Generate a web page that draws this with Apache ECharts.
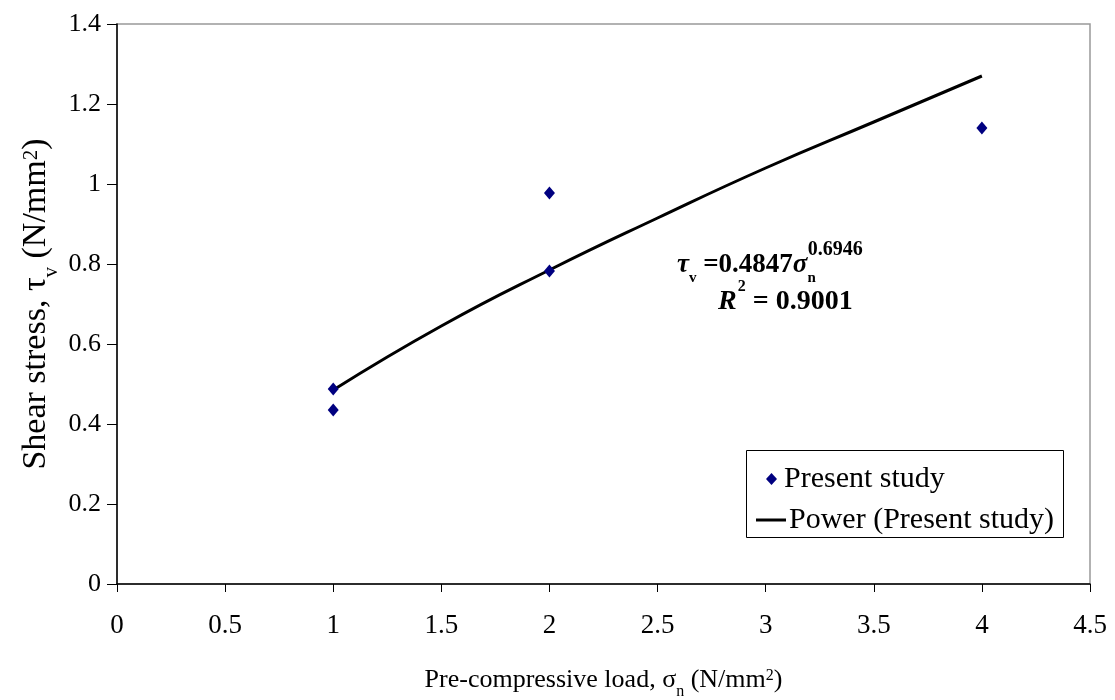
<!DOCTYPE html>
<html>
<head>
<meta charset="utf-8">
<script src="https://cdn.jsdelivr.net/npm/echarts@6/dist/echarts.min.js"></script>
<style>
  html, body { margin: 0; padding: 0; background: #fff; }
  #chart { width: 1115px; height: 700px; }
</style>
</head>
<body>
<div id="chart"></div>
<script>
  // measured points
  var loadX = [1, 1, 2, 2, 4];
  var shearY = [0.4875, 0.435, 0.9775, 0.7825, 1.14];

  // power trend line
  var trendX = [1, 1.5, 2, 2.5, 3, 3.5, 4];
  var trendY = [0.485, 0.645, 0.785, 0.915, 1.04, 1.155, 1.27];

  var xTicks = [0, 0.5, 1, 1.5, 2, 2.5, 3, 3.5, 4, 4.5];
  var yTicks = [0, 0.2, 0.4, 0.6, 0.8, 1, 1.2, 1.4];

  var FONT = '"Liberation Serif", "Times New Roman", serif';

  function pairs(xs, ys) {
    return xs.map(function (x, i) { return [x, ys[i]]; });
  }

  function titleRich(size) {
    var small = Math.round(size * 0.62);
    return {
      t: { fontFamily: FONT, fontSize: size, color: '#000' },
      s: { fontFamily: FONT, fontSize: small, color: '#000', verticalAlign: 'bottom', padding: [0, 0, -Math.round(size * 0.25), 0] },
      p: { fontFamily: FONT, fontSize: small, color: '#000', verticalAlign: 'top', padding: [Math.round(size * 0.05), 0, 0, 0] }
    };
  }

  var chart = echarts.init(document.getElementById('chart'), null, { renderer: 'canvas' });

  chart.setOption({
    backgroundColor: '#fff',
    animation: false,
    grid: {
      left: 117, right: 25, top: 24, bottom: 116,
      outerBoundsMode: 'none',
      containLabel: false,
      show: true, borderColor: '#999', borderWidth: 1.5, backgroundColor: 'transparent'
    },
    xAxis: {
      type: 'value',
      min: xTicks[0],
      max: xTicks[xTicks.length - 1],
      interval: 0.5,
      axisLine: { onZero: false, lineStyle: { color: '#000', width: 1.5 } },
      axisTick: { length: 8, lineStyle: { color: '#000' } },
      splitLine: { show: false },
      axisLabel: { fontFamily: FONT, fontSize: 27, color: '#000', margin: 28 },
      name: '{t|Pre-compressive load, σ}{s|n}{t| (N/mm}{p|2}{t|)}',
      nameLocation: 'middle',
      nameMoveOverlap: false,
      nameGap: 83,
      nameTextStyle: { rich: titleRich(26) }
    },
    yAxis: {
      type: 'value',
      min: yTicks[0],
      max: yTicks[yTicks.length - 1],
      interval: 0.2,
      axisLine: { onZero: false, lineStyle: { color: '#000', width: 1.5 } },
      axisTick: { length: 10, lineStyle: { color: '#000' } },
      splitLine: { show: false },
      axisLabel: { fontFamily: FONT, fontSize: 26, color: '#000', margin: 16 },
      name: '{t|Shear stress, τ}{s|v}{t| (N/mm}{p|2}{t|)}',
      nameLocation: 'middle',
      nameRotate: 90,
      nameMoveOverlap: false,
      nameGap: 64,
      nameTextStyle: { rich: titleRich(34) }
    },
    legend: [
      {
        data: ['Present study'],
        left: 761, top: 459,
        icon: 'diamond',
        itemWidth: 11, itemHeight: 12, itemGap: 0,
        textStyle: { fontFamily: FONT, fontSize: 30, color: '#000', padding: [0, 0, 0, 2] }
      },
      {
        data: ['Power (Present study)'],
        left: 751, top: 500,
        icon: 'rect',
        itemWidth: 30, itemHeight: 3,
        textStyle: { fontFamily: FONT, fontSize: 30, color: '#000', padding: [0, 0, 0, -2] }
      }
    ],
    graphic: [
      {
        type: 'rect',
        left: 746, top: 450, z: 1,
        shape: { width: 317, height: 87 },
        style: { fill: '#fff', stroke: '#000', lineWidth: 1 }
      },
      {
        type: 'text',
        left: 677, top: 240,
        style: {
          text: '{i|τ}{s|v}{n| =0.4847}{i|σ}{s|n}{p|0.6946}',
          rich: {
            i: { fontFamily: FONT, fontSize: 27, fontWeight: 'bold', fontStyle: 'italic', fill: '#000' },
            n: { fontFamily: FONT, fontSize: 27, fontWeight: 'bold', fill: '#000' },
            s: { fontFamily: FONT, fontSize: 15, fontWeight: 'bold', fill: '#000', verticalAlign: 'bottom', padding: [0, 0, -7, 0] },
            p: { fontFamily: FONT, fontSize: 20, fontWeight: 'bold', fill: '#000', verticalAlign: 'top', padding: [-12, 0, 0, -8] }
          }
        }
      },
      {
        type: 'text',
        left: 718, top: 279,
        style: {
          text: '{i|R}{p|2}{n| = 0.9001}',
          rich: {
            i: { fontFamily: FONT, fontSize: 28, fontWeight: 'bold', fontStyle: 'italic', fill: '#000' },
            n: { fontFamily: FONT, fontSize: 28, fontWeight: 'bold', fill: '#000' },
            p: { fontFamily: FONT, fontSize: 16, fontWeight: 'bold', fill: '#000', verticalAlign: 'top', padding: [-9, 0, 0, 1] }
          }
        }
      }
    ],
    series: [
      {
        name: 'Power (Present study)',
        type: 'line',
        data: pairs(trendX, trendY),
        smooth: true,
        showSymbol: false,
        symbol: 'none',
        lineStyle: { color: '#000', width: 3 },
        itemStyle: { color: '#000' },
        z: 2
      },
      {
        name: 'Present study',
        type: 'scatter',
        data: pairs(loadX, shearY),
        symbol: 'diamond',
        symbolSize: [11, 13],
        itemStyle: { color: '#000080', opacity: 1 },
        z: 3
      }
    ]
  });
</script>
</body>
</html>
